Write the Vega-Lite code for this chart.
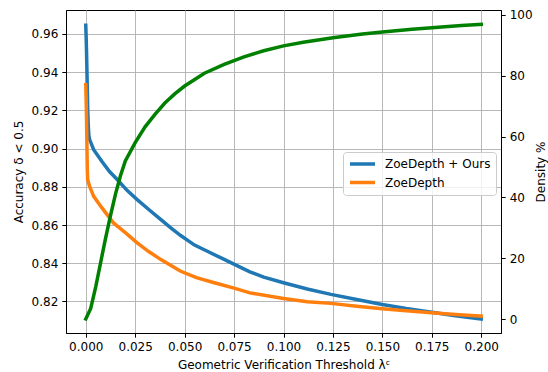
{
  "$schema": "https://vega.github.io/schema/vega-lite/v6.json",
  "width": 435,
  "height": 323,
  "autosize": "none",
  "padding": {"left": 66, "top": 10, "right": 47, "bottom": 39},
  "background": "white",
  "config": {
    "font": "DejaVu Sans",
    "view": {"stroke": "black", "strokeWidth": 1},
    "axis": {
      "labelFont": "DejaVu Sans",
      "titleFont": "DejaVu Sans",
      "labelFontSize": 12,
      "titleFontSize": 12,
      "titleFontWeight": "normal",
      "labelColor": "black",
      "titleColor": "black",
      "tickColor": "black",
      "domainColor": "black",
      "tickSize": 4.2,
      "labelPadding": 4,
      "gridColor": "#b0b0b0",
      "gridWidth": 0.9,
      "gridOpacity": 1
    }
  },
  "datasets": {
    "blue": [
      {"x": 0, "acc": 0.9645, "series": "ZoeDepth + Ours"},
      {"x": 0.0002, "acc": 0.958, "series": "ZoeDepth + Ours"},
      {"x": 0.0004, "acc": 0.95, "series": "ZoeDepth + Ours"},
      {"x": 0.0006, "acc": 0.94, "series": "ZoeDepth + Ours"},
      {"x": 0.0008, "acc": 0.93, "series": "ZoeDepth + Ours"},
      {"x": 0.001, "acc": 0.92, "series": "ZoeDepth + Ours"},
      {"x": 0.0013, "acc": 0.911, "series": "ZoeDepth + Ours"},
      {"x": 0.0016, "acc": 0.9065, "series": "ZoeDepth + Ours"},
      {"x": 0.002, "acc": 0.9046, "series": "ZoeDepth + Ours"},
      {"x": 0.004, "acc": 0.8994, "series": "ZoeDepth + Ours"},
      {"x": 0.008, "acc": 0.8935, "series": "ZoeDepth + Ours"},
      {"x": 0.012, "acc": 0.888, "series": "ZoeDepth + Ours"},
      {"x": 0.016, "acc": 0.8837, "series": "ZoeDepth + Ours"},
      {"x": 0.021, "acc": 0.878, "series": "ZoeDepth + Ours"},
      {"x": 0.026, "acc": 0.8733, "series": "ZoeDepth + Ours"},
      {"x": 0.032, "acc": 0.868, "series": "ZoeDepth + Ours"},
      {"x": 0.038, "acc": 0.8628, "series": "ZoeDepth + Ours"},
      {"x": 0.043, "acc": 0.8585, "series": "ZoeDepth + Ours"},
      {"x": 0.048, "acc": 0.8545, "series": "ZoeDepth + Ours"},
      {"x": 0.055, "acc": 0.8495, "series": "ZoeDepth + Ours"},
      {"x": 0.062, "acc": 0.846, "series": "ZoeDepth + Ours"},
      {"x": 0.07, "acc": 0.842, "series": "ZoeDepth + Ours"},
      {"x": 0.077, "acc": 0.8385, "series": "ZoeDepth + Ours"},
      {"x": 0.083, "acc": 0.8355, "series": "ZoeDepth + Ours"},
      {"x": 0.09, "acc": 0.8327, "series": "ZoeDepth + Ours"},
      {"x": 0.1, "acc": 0.8298, "series": "ZoeDepth + Ours"},
      {"x": 0.112, "acc": 0.8265, "series": "ZoeDepth + Ours"},
      {"x": 0.124, "acc": 0.8237, "series": "ZoeDepth + Ours"},
      {"x": 0.137, "acc": 0.821, "series": "ZoeDepth + Ours"},
      {"x": 0.15, "acc": 0.8184, "series": "ZoeDepth + Ours"},
      {"x": 0.162, "acc": 0.8163, "series": "ZoeDepth + Ours"},
      {"x": 0.175, "acc": 0.8144, "series": "ZoeDepth + Ours"},
      {"x": 0.187, "acc": 0.8125, "series": "ZoeDepth + Ours"},
      {"x": 0.2, "acc": 0.8108, "series": "ZoeDepth + Ours"}
    ],
    "orange": [
      {"x": 0, "acc": 0.9334, "series": "ZoeDepth"},
      {"x": 0.0002, "acc": 0.925, "series": "ZoeDepth"},
      {"x": 0.0004, "acc": 0.915, "series": "ZoeDepth"},
      {"x": 0.0006, "acc": 0.9, "series": "ZoeDepth"},
      {"x": 0.0008, "acc": 0.888, "series": "ZoeDepth"},
      {"x": 0.001, "acc": 0.8835, "series": "ZoeDepth"},
      {"x": 0.002, "acc": 0.88, "series": "ZoeDepth"},
      {"x": 0.004, "acc": 0.875, "series": "ZoeDepth"},
      {"x": 0.008, "acc": 0.8692, "series": "ZoeDepth"},
      {"x": 0.014, "acc": 0.8611, "series": "ZoeDepth"},
      {"x": 0.02, "acc": 0.856, "series": "ZoeDepth"},
      {"x": 0.026, "acc": 0.8507, "series": "ZoeDepth"},
      {"x": 0.032, "acc": 0.846, "series": "ZoeDepth"},
      {"x": 0.038, "acc": 0.8419, "series": "ZoeDepth"},
      {"x": 0.048, "acc": 0.8358, "series": "ZoeDepth"},
      {"x": 0.056, "acc": 0.8325, "series": "ZoeDepth"},
      {"x": 0.065, "acc": 0.8298, "series": "ZoeDepth"},
      {"x": 0.075, "acc": 0.827, "series": "ZoeDepth"},
      {"x": 0.083, "acc": 0.8245, "series": "ZoeDepth"},
      {"x": 0.1, "acc": 0.8216, "series": "ZoeDepth"},
      {"x": 0.112, "acc": 0.8198, "series": "ZoeDepth"},
      {"x": 0.124, "acc": 0.819, "series": "ZoeDepth"},
      {"x": 0.137, "acc": 0.8175, "series": "ZoeDepth"},
      {"x": 0.15, "acc": 0.8162, "series": "ZoeDepth"},
      {"x": 0.162, "acc": 0.8152, "series": "ZoeDepth"},
      {"x": 0.175, "acc": 0.8141, "series": "ZoeDepth"},
      {"x": 0.187, "acc": 0.8132, "series": "ZoeDepth"},
      {"x": 0.2, "acc": 0.8123, "series": "ZoeDepth"}
    ],
    "density": [
      {"x": 0, "d": 0},
      {"x": 0.0025, "d": 3.5},
      {"x": 0.005, "d": 10.5},
      {"x": 0.0075, "d": 18.5},
      {"x": 0.01, "d": 26.5},
      {"x": 0.0125, "d": 34},
      {"x": 0.015, "d": 41},
      {"x": 0.0175, "d": 47},
      {"x": 0.02, "d": 52},
      {"x": 0.025, "d": 58},
      {"x": 0.03, "d": 63.2},
      {"x": 0.035, "d": 67.3},
      {"x": 0.04, "d": 71},
      {"x": 0.045, "d": 74},
      {"x": 0.05, "d": 76.6},
      {"x": 0.06, "d": 80.8},
      {"x": 0.07, "d": 83.7},
      {"x": 0.08, "d": 86.2},
      {"x": 0.09, "d": 88.2},
      {"x": 0.1, "d": 89.8},
      {"x": 0.11, "d": 91},
      {"x": 0.125, "d": 92.5},
      {"x": 0.14, "d": 93.7},
      {"x": 0.15, "d": 94.4},
      {"x": 0.165, "d": 95.3},
      {"x": 0.175, "d": 95.8},
      {"x": 0.19, "d": 96.5},
      {"x": 0.2, "d": 96.9}
    ]
  },
  "layer": [
    {
      "encoding": {
        "x": {"field": "x", "type": "quantitative", "scale": {"domain": [-0.01, 0.21], "nice": false, "zero": false},
              "axis": {"title": "Geometric Verification Threshold λᶜ", "values": [0, 0.025, 0.05, 0.075, 0.1, 0.125, 0.15, 0.175, 0.2], "format": ".3f", "grid": true, "titlePadding": 7}},
        "y": {"field": "acc", "type": "quantitative", "scale": {"domain": [0.8035, 0.9725], "nice": false, "zero": false},
              "axis": {"title": "Accuracy δ < 0.5", "values": [0.82, 0.84, 0.86, 0.88, 0.9, 0.92, 0.94, 0.96], "format": ".2f", "grid": true, "titlePadding": 6}},
        "color": {"field": "series", "type": "nominal",
                  "scale": {"domain": ["ZoeDepth + Ours", "ZoeDepth"], "range": ["#1f77b4", "#ff7f0e"]},
                  "legend": {"orient": "none", "legendX": 277, "legendY": 142, "title": null, "symbolType": "stroke", "symbolStrokeWidth": 3.5, "symbolSize": 625, "clipHeight": 14, "labelFontSize": 12, "labelFont": "DejaVu Sans", "labelColor": "black", "fillColor": "rgba(255,255,255,0.8)", "strokeColor": "#cccccc", "cornerRadius": 3, "padding": 5, "rowPadding": 4.5, "labelOffset": 8}}
      },
      "layer": [
        {"data": {"name": "blue"}, "mark": {"type": "line", "strokeWidth": 3.5, "strokeCap": "square"}},
        {"data": {"name": "orange"}, "mark": {"type": "line", "strokeWidth": 3.5, "strokeCap": "square"}}
      ]
    },
    {
      "data": {"name": "density"},
      "mark": {"type": "line", "strokeWidth": 3.5, "strokeCap": "square", "color": "green"},
      "encoding": {
        "x": {"field": "x", "type": "quantitative"},
        "y": {"field": "d", "type": "quantitative", "scale": {"domain": [-4.6, 101.6], "nice": false, "zero": false},
              "axis": {"orient": "right", "title": "Density %", "values": [0, 20, 40, 60, 80, 100], "grid": false, "titleAngle": 270, "titleBaseline": "top", "titlePadding": 3}}
      }
    }
  ],
  "resolve": {"scale": {"y": "independent"}}
}
